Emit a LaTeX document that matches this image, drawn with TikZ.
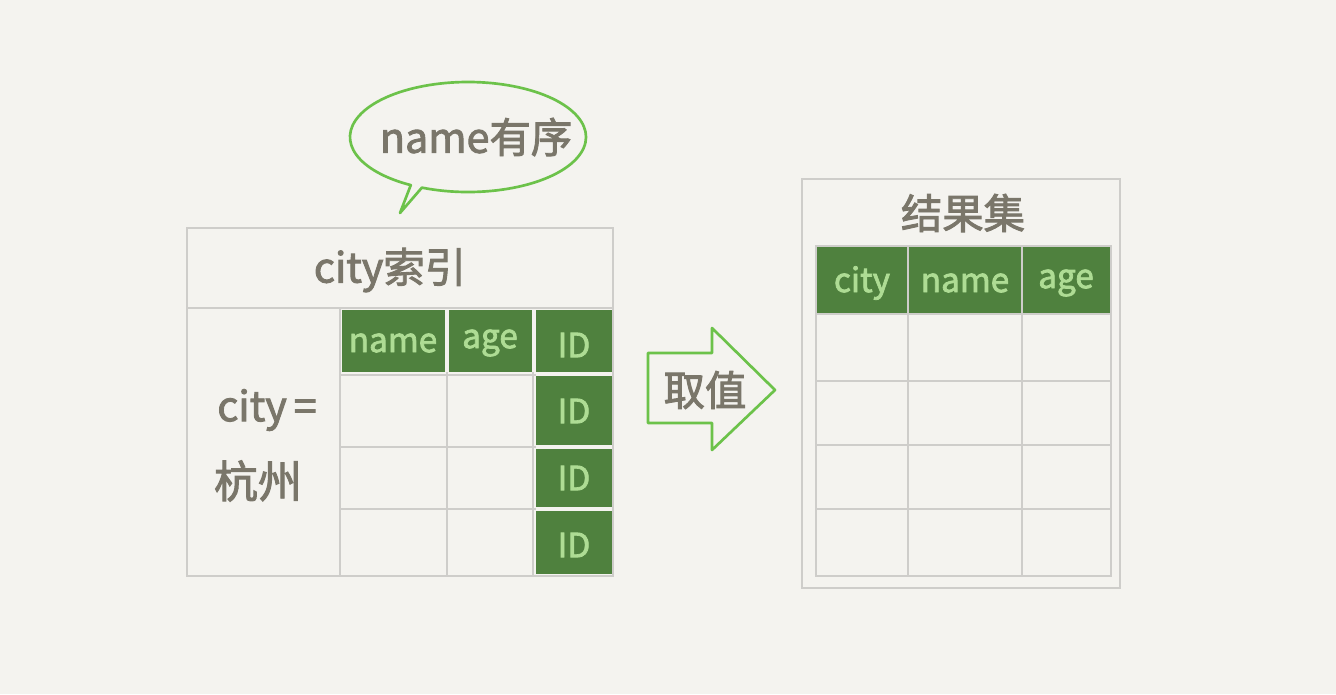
\documentclass[tikz,border=0pt]{standalone}
\usepackage{fontspec}
\setmainfont[AutoFakeBold=2.2]{Noto Sans CJK SC}
\definecolor{bg}{HTML}{F4F3EF}
\definecolor{ink}{HTML}{7A766A}
\definecolor{gridc}{HTML}{CECDCA}
\definecolor{cellg}{HTML}{4F813E}
\definecolor{cellt}{HTML}{AEDC94}
\definecolor{bubg}{HTML}{6CC24A}
\tikzset{
  gridline/.style={draw=gridc, line width=2.2pt},
  greencell/.style={fill=cellg},
  celltext/.style={text=cellt, font=\fontsize{25}{27}\selectfont\bfseries, inner sep=0pt},
  inktext/.style={text=ink, font=\fontsize{31}{34}\selectfont\bfseries, inner sep=0pt},
  greenline/.style={draw=bubg, line width=2pt, line join=round},
}
\begin{document}
\begin{tikzpicture}[x=0.75pt,y=-0.75pt]
\fill[bg] (0,0) rectangle (1336,694);
\useasboundingbox (0,0) rectangle (1336,694);

% speech bubble
\draw[greenline, fill=bg] (400,213) -- ({468+118*cos(113)},{137+55*sin(113)})
  arc[start angle=113, end angle=-241, x radius=118, y radius=55] -- cycle;
\node[inktext] (bubble) at (476,137) {name有序};

% left table
\draw[gridline] (187,228) rectangle (613,576);
\draw[gridline] (187,308) -- (613,308);
\draw[gridline] (340,308) -- (340,576);
\draw[gridline] (447,372) -- (447,576);
\draw[gridline] (533,372) -- (533,576);
\draw[gridline] (340,375) -- (536,375);
\draw[gridline] (340,447) -- (536,447);
\draw[gridline] (340,509) -- (536,509);
\node[inktext] (lt) at (390,270) {city索引};
\node[inktext] (cond1) at (267,410) {city\,=};
\node[inktext, font=\fontsize{33}{36}\selectfont\bfseries] (cond2) at (258,481) {杭州};

\fill[greencell] (342,310) rectangle (445,372);
\fill[greencell] (449,310) rectangle (532,372);
\fill[greencell] (536,310) rectangle (612,372);
\fill[greencell] (536,376) rectangle (612,445);
\fill[greencell] (536,449) rectangle (612,507);
\fill[greencell] (536,511) rectangle (612,574);
\node[celltext] (hname) at (393,343) {name};
\node[celltext] (hage) at (490,343) {age};
\node[celltext] (id1) at (574,345) {ID};
\node[celltext] (id2) at (574,411) {ID};
\node[celltext] (id3) at (574,478) {ID};
\node[celltext] (id4) at (574,545) {ID};

% arrow
\draw[greenline] (648,353) -- (712,353) -- (712,328) -- (775,390) -- (712,450)
  -- (712,423) -- (648,423) -- cycle;
\node[inktext] (take) at (705,390) {取值};

% right table
\draw[gridline] (802,179) rectangle (1120,588);
\node[inktext] (rt) at (963,213) {结果集};
\fill[greencell] (816,246) rectangle (1111,313);
\draw[gridline] (816,246) rectangle (1111,576);
\draw[gridline] (908,246) -- (908,576);
\draw[gridline] (1022,246) -- (1022,576);
\draw[gridline] (816,314) -- (1111,314);
\draw[gridline] (816,381) -- (1111,381);
\draw[gridline] (816,445) -- (1111,445);
\draw[gridline] (816,509) -- (1111,509);
\node[celltext] (rc) at (862,283) {city};
\node[celltext] (rn) at (965,283) {name};
\node[celltext] (ra) at (1066,283) {age};
\end{tikzpicture}
\end{document}
